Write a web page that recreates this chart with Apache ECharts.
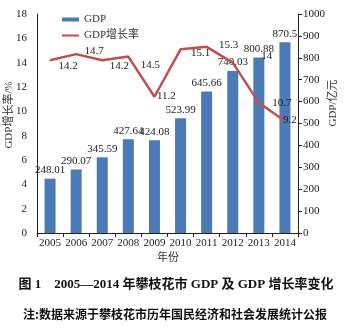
<!DOCTYPE html>
<html>
<head>
<meta charset="utf-8">
<script src="https://cdn.jsdelivr.net/npm/echarts@6/dist/echarts.min.js"></script>
<style>
  html, body { margin: 0; padding: 0; background: #fff; }
  #chart { width: 350px; height: 329px; }
</style>
</head>
<body>
<div id="chart"></div>
<script>
// Panzhihua GDP (100 million yuan) and GDP growth rate (%), 2005-2014
const years = ['2005', '2006', '2007', '2008', '2009', '2010', '2011', '2012', '2013', '2014'];
const gdp = [248.01, 290.07, 345.59, 427.64, 424.08, 523.99, 645.66, 740.03, 800.88, 870.5];
const growth = [14.2, 14.7, 14.2, 14.5, 11.2, 15.1, 15.3, 14, 10.7, 9.2];
const leftTicks = [0, 18, 2];      // min, max, step
const rightTicks = [0, 1000, 100]; // min, max, step

const serif = '"Liberation Serif", "Noto Sans CJK SC", serif';

// label nudges for the growth-rate line so the numbers sit clear of the curve
const growthLabelOffsets = [[18, 6], [18, -3], [17, 6], [22, 9], [12, -1], [20, 4], [22, -2], [34, -7], [23, 0], [5, -1]];

const chart = echarts.init(document.getElementById('chart'), null, { renderer: 'canvas' });

chart.setOption({
  animation: false,
  backgroundColor: '#fff',
  grid: { left: 37, right: 52, top: 14, bottom: 96, containLabel: false },
  legend: {
    left: 57, top: 9, orient: 'vertical', itemGap: 5,
    itemWidth: 17, itemHeight: 11,
    textStyle: { fontFamily: serif, fontSize: 11, color: '#333' },
    data: [
      { name: 'GDP', icon: 'path://M0,4 L17,4 L17,8 L0,8 Z', itemStyle: { color: '#4a7bb7' } },
      { name: 'GDP增长率', icon: 'path://M0,5 L17,5 L17,7 L0,7 Z', itemStyle: { color: '#c0504d', opacity: 1, borderWidth: 0 } }
    ]
  },
  xAxis: {
    type: 'category',
    data: years,
    axisLine: { lineStyle: { color: '#222', width: 1 } },
    axisTick: { show: true, alignWithLabel: false, length: 4, lineStyle: { color: '#222' } },
    axisLabel: { fontFamily: serif, fontSize: 11, color: '#222', margin: 5, interval: 0 }
  },
  yAxis: [
    {
      type: 'value',
      position: 'left',
      min: leftTicks[0], max: leftTicks[1], interval: leftTicks[2],
      axisLine: { show: true, lineStyle: { color: '#222', width: 1 } },
      axisTick: { show: false },
      splitLine: { show: false },
      axisLabel: { fontFamily: serif, fontSize: 11, color: '#222', margin: 10 }
    },
    {
      type: 'value',
      position: 'right',
      min: rightTicks[0], max: rightTicks[1], interval: rightTicks[2],
      axisLine: { show: true, lineStyle: { color: '#222', width: 1 } },
      axisTick: { show: true, inside: false, length: 4, lineStyle: { color: '#222' } },
      splitLine: { show: false },
      axisLabel: { fontFamily: serif, fontSize: 11, color: '#222', margin: 5, formatter: v => String(v) }
    }
  ],
  series: [
    {
      name: 'GDP',
      type: 'bar',
      yAxisIndex: 1,
      data: gdp,
      barWidth: 11,
      itemStyle: { color: '#4a7bb7' },
      label: {
        show: true, position: 'top', distance: 3,
        fontFamily: serif, fontSize: 11, color: '#222'
      },
      z: 2
    },
    {
      name: 'GDP增长率',
      type: 'line',
      yAxisIndex: 0,
      data: growth.map((v, i) => ({
        value: v,
        label: { offset: growthLabelOffsets[i] }
      })),
      symbol: 'circle',
      symbolSize: 1,
      showSymbol: true,
      lineStyle: { color: '#c0504d', width: 2.5 },
      itemStyle: { color: '#c0504d' },
      label: {
        show: true, position: 'inside',
        fontFamily: serif, fontSize: 11, color: '#222'
      },
      z: 3
    }
  ],
  graphic: [
    {
      type: 'text', x: 9, y: 115, rotation: Math.PI / 2,
      style: {
        text: 'GDP增长率/%', font: '11px "Liberation Serif", "Noto Sans CJK SC", serif',
        fill: '#333', align: 'center', verticalAlign: 'middle'
      }
    },
    {
      type: 'text', x: 333, y: 103, rotation: Math.PI / 2,
      style: {
        text: 'GDP/亿元', font: '11px "Liberation Serif", "Noto Sans CJK SC", serif',
        fill: '#333', align: 'center', verticalAlign: 'middle'
      }
    },
    {
      type: 'text', x: 168, y: 257,
      style: {
        text: '年份', font: '11px "Noto Sans CJK SC", sans-serif',
        fill: '#333', align: 'center', verticalAlign: 'middle'
      }
    },
    {
      type: 'text', x: 176, y: 285,
      style: {
        text: '图 1    2005—2014 年攀枝花市 GDP 及 GDP 增长率变化',
        font: 'bold 13px "Liberation Serif", "Noto Sans CJK SC", serif',
        fill: '#111', align: 'center', verticalAlign: 'middle'
      }
    },
    {
      type: 'text', x: 175, y: 314,
      style: {
        text: '注:数据来源于攀枝花市历年国民经济和社会发展统计公报',
        font: 'bold 12px "Noto Sans CJK SC", sans-serif',
        fill: '#111', align: 'center', verticalAlign: 'middle'
      }
    }
  ]
});
</script>
</body>
</html>
